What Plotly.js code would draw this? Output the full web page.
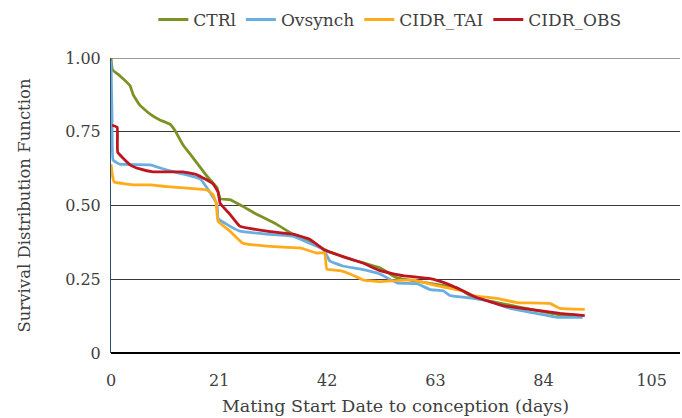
<!DOCTYPE html>
<html><head><meta charset="utf-8">
<script src="https://cdn.plot.ly/plotly-3.0.1.min.js"></script>
<style>html,body{margin:0;padding:0;background:#fff}#chart{width:682px;height:418px}</style>
</head><body><div id="chart"></div>
<script>
const ctrlDays = [0, 0.3, 1.7, 3.7, 4.3, 5.6, 7.6, 9.5, 11.5, 12.4, 14, 16, 18.6, 20.6, 21.2, 23.1, 25.6, 28.3, 32.2, 35.3, 38.6, 41.9, 45.8, 52.2, 55.5, 67.2, 70.3, 75, 82.7, 87.8, 91.6];
const ctrlSurv = [1.0, 0.96, 0.94, 0.906, 0.876, 0.84, 0.81, 0.79, 0.775, 0.755, 0.705, 0.66, 0.60, 0.56, 0.523, 0.52, 0.497, 0.47, 0.436, 0.403, 0.38, 0.346, 0.322, 0.289, 0.255, 0.221, 0.188, 0.171, 0.144, 0.127, 0.127];

const ovsDays = [0, 0.2, 0.4, 1.7, 7.6, 10.9, 14, 17.3, 19.2, 20.6, 20.8, 22.5, 25, 30.3, 35.3, 38.6, 41.2, 42.5, 45, 48.3, 52.2, 55.5, 59.4, 62, 64.5, 65.8, 69, 73, 77.5, 81.4, 86.6, 91.6];
const ovsSurv = [0.99, 0.8, 0.654, 0.64, 0.638, 0.62, 0.607, 0.59, 0.545, 0.503, 0.456, 0.436, 0.413, 0.403, 0.396, 0.372, 0.352, 0.312, 0.295, 0.285, 0.268, 0.238, 0.235, 0.215, 0.211, 0.195, 0.188, 0.178, 0.151, 0.138, 0.121, 0.121];

const taiDays = [0, 0.3, 0.6, 4.3, 7.6, 10.9, 16, 18.6, 19.8, 20.4, 20.8, 23.1, 25.6, 30.3, 36.7, 40, 41.5, 41.9, 44.5, 46.4, 48.9, 52.2, 58.6, 63.3, 68.3, 70.3, 75, 78.8, 85.2, 87.2, 92];
const taiSurv = [0.64, 0.6, 0.58, 0.57, 0.57, 0.564, 0.557, 0.553, 0.537, 0.51, 0.446, 0.413, 0.372, 0.362, 0.356, 0.339, 0.339, 0.285, 0.279, 0.268, 0.248, 0.242, 0.248, 0.228, 0.211, 0.195, 0.185, 0.171, 0.168, 0.151, 0.148];

const obsDays = [0.2, 1.2, 1.3, 3.7, 5.6, 8.2, 14, 16.7, 19.8, 20.8, 21.2, 23.1, 25, 30.3, 35.3, 38.6, 41.2, 46.4, 48.9, 52.2, 56.7, 62, 65.2, 68.3, 71, 76.1, 81.4, 87.2, 92];
const obsSurv = [0.772, 0.765, 0.681, 0.638, 0.624, 0.614, 0.614, 0.604, 0.574, 0.545, 0.507, 0.47, 0.43, 0.413, 0.403, 0.386, 0.352, 0.319, 0.305, 0.279, 0.262, 0.252, 0.235, 0.211, 0.188, 0.161, 0.148, 0.134, 0.127];

const seriesNames = ['CTRl', 'Ovsynch', 'CIDR_TAI', 'CIDR_OBS'];
const xTicks = [0, 21, 42, 63, 84, 105];
const yTicks = [0, 0.25, 0.5, 0.75, 1.0];
const yTickText = ['0', '0.25', '0.50', '0.75', '1.00'];

const colors = ['#7b9224', '#6aaedf', '#ffab1a', '#bf1520'];
const xs = [ctrlDays, ovsDays, taiDays, obsDays];
const ys = [ctrlSurv, ovsSurv, taiSurv, obsSurv];
const traces = seriesNames.map((n, i) => ({
  x: xs[i], y: ys[i], name: n, type: 'scatter', mode: 'lines',
  line: {color: colors[i], width: 2.8, shape: 'spline', smoothing: 0.3}
}));

const fam = 'DejaVu Serif, serif';
const font = {family: fam, color: '#404040', size: 16};
Plotly.newPlot('chart', traces, {
  width: 682, height: 418,
  margin: {l: 111, r: 2, t: 55, b: 65},
  paper_bgcolor: '#fff', plot_bgcolor: '#fff',
  font: font,
  showlegend: true,
  legend: {orientation: 'h', x: 0.49, xanchor: 'center', y: 1.19, yanchor: 'top', font: {family: fam, size: 17, color: '#404040'}, itemwidth: 30, tracegroupgap: 0},
  xaxis: {range: [0, 110.5], tickvals: xTicks, ticktext: xTicks.map(String), showgrid: false, zeroline: false,
    showline: false, ticks: '', tickfont: {size: 16}, ticklabelstandoff: 16,
    title: {text: 'Mating Start Date to conception (days)', font: {size: 17.5}, standoff: 10}},
  yaxis: {range: [0, 1], tickvals: yTicks, ticktext: yTickText, showgrid: true, gridcolor: '#3a3a3a', gridwidth: 1,
    zeroline: true, zerolinecolor: '#000', zerolinewidth: 1.5, showline: true, linecolor: '#2f4a6a', linewidth: 1,
    ticks: '', tickfont: {size: 16}, ticklabelstandoff: 6,
    title: {text: 'Survival Distribution Function', font: {size: 16.5}, standoff: 30}},
  shapes: [{type: 'line', xref: 'paper', yref: 'y', x0: 0, x1: 1, y0: 1, y1: 1, line: {color: '#3a3a3a', width: 1}, layer: 'below'}]
}, {displayModeBar: false, staticPlot: true});
</script></body></html>
